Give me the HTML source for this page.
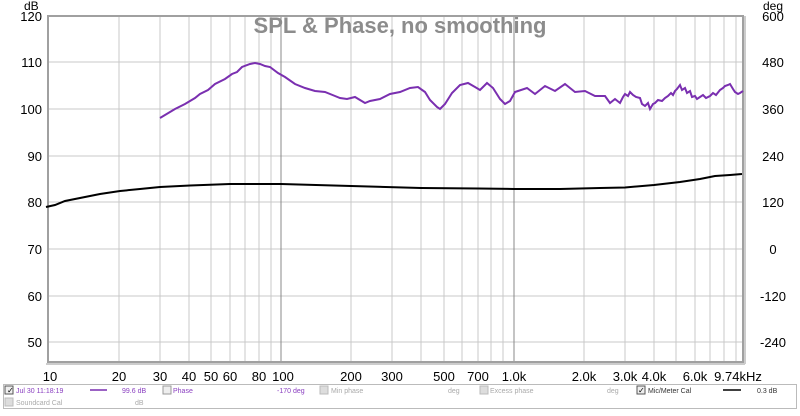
<!DOCTYPE html>
<html><head><meta charset="utf-8"><style>
body{margin:0;background:#fff;width:800px;height:411px;overflow:hidden;font-family:"Liberation Sans",sans-serif}
</style></head><body>
<svg width="800" height="411" viewBox="0 0 800 411" xmlns="http://www.w3.org/2000/svg" font-family="Liberation Sans, sans-serif">
<rect x="0" y="0" width="800" height="411" fill="#fff"/>
<g stroke="#c8c8c8" stroke-width="1">
<line x1="49" y1="16" x2="744" y2="16"/><line x1="49" y1="62" x2="744" y2="62"/><line x1="49" y1="109" x2="744" y2="109"/><line x1="49" y1="156" x2="744" y2="156"/><line x1="49" y1="202" x2="744" y2="202"/><line x1="49" y1="249" x2="744" y2="249"/><line x1="49" y1="296" x2="744" y2="296"/><line x1="49" y1="342" x2="744" y2="342"/>
<line x1="119" y1="16" x2="119" y2="362"/><line x1="160" y1="16" x2="160" y2="362"/><line x1="189" y1="16" x2="189" y2="362"/><line x1="211" y1="16" x2="211" y2="362"/><line x1="230" y1="16" x2="230" y2="362"/><line x1="245" y1="16" x2="245" y2="362"/><line x1="259" y1="16" x2="259" y2="362"/><line x1="271" y1="16" x2="271" y2="362"/>
<line x1="351" y1="16" x2="351" y2="362"/><line x1="392" y1="16" x2="392" y2="362"/><line x1="421" y1="16" x2="421" y2="362"/><line x1="444" y1="16" x2="444" y2="362"/><line x1="462" y1="16" x2="462" y2="362"/><line x1="478" y1="16" x2="478" y2="362"/><line x1="491" y1="16" x2="491" y2="362"/><line x1="503" y1="16" x2="503" y2="362"/>
<line x1="584" y1="16" x2="584" y2="362"/><line x1="625" y1="16" x2="625" y2="362"/><line x1="654" y1="16" x2="654" y2="362"/><line x1="676" y1="16" x2="676" y2="362"/><line x1="695" y1="16" x2="695" y2="362"/><line x1="710" y1="16" x2="710" y2="362"/><line x1="724" y1="16" x2="724" y2="362"/><line x1="736" y1="16" x2="736" y2="362"/>
</g>
<g stroke="#888" stroke-width="1"><line x1="281" y1="16" x2="281" y2="362"/><line x1="514" y1="16" x2="514" y2="362"/></g>
<rect x="48" y="16" width="695" height="346" fill="none" stroke="#a0a0a0" stroke-width="2"/>
<line x1="46" y1="364" x2="745" y2="364" stroke="#ccc" stroke-width="2"/>
<line x1="745" y1="16" x2="745" y2="364" stroke="#ccc" stroke-width="2"/>
<text x="400" y="33" text-anchor="middle" font-size="22" font-weight="bold" fill="#8c8c8c">SPL &amp; Phase, no smoothing</text>
<g font-size="13" fill="#000" text-anchor="end">
<text x="42" y="21">120</text><text x="42" y="67">110</text><text x="42" y="114">100</text><text x="42" y="161">90</text><text x="42" y="207">80</text><text x="42" y="254">70</text><text x="42" y="301">60</text><text x="42" y="347">50</text>
</g>
<text x="24" y="10" font-size="12">dB</text>
<text x="773" y="10" font-size="12" text-anchor="middle">deg</text>
<g font-size="13" fill="#000" text-anchor="middle">
<text x="773" y="21">600</text><text x="773" y="67">480</text><text x="773" y="114">360</text><text x="773" y="161">240</text><text x="773" y="207">120</text><text x="773" y="254">0</text><text x="773" y="301">-120</text><text x="773" y="347">-240</text>
</g>
<g font-size="13" fill="#000" text-anchor="middle">
<text x="50" y="381">10</text><text x="119" y="381">20</text><text x="160" y="381">30</text><text x="189" y="381">40</text><text x="211" y="381">50</text><text x="230" y="381">60</text><text x="259" y="381">80</text><text x="283" y="381">100</text><text x="351" y="381">200</text><text x="392" y="381">300</text><text x="444" y="381">500</text><text x="478" y="381">700</text><text x="514" y="381">1.0k</text><text x="584" y="381">2.0k</text><text x="625" y="381">3.0k</text><text x="654" y="381">4.0k</text><text x="695" y="381">6.0k</text><text x="738" y="381">9.74kHz</text>
</g>
<polyline fill="none" stroke="#7a2fb0" stroke-width="2" points="160,118 175,109 185,104 195,98 200,94 208,90 215,84 225,79 232,74 237,72 242,67 250,64 255,63 260,64 265,66 270,67 278,73 285,77 295,84 305,88 315,91 325,92 335,96 340,98 347,99 355,97 365,103 370,101 380,99 390,94 400,92 410,88 418,87 425,92 430,100 437,107 440,109 445,104 452,93 460,85 468,83 475,87 480,90 487,83 493,88 500,99 505,104 510,101 515,92 527,88 535,94 545,86 555,91 565,84 575,92 585,91 595,96 605,96 610,103 615,99 620,103 623,97 625,94 628,96 630,92 633,95 636,97 640,98 642,104 645,106 648,103 650,109 653,104 655,103 658,100 662,101 665,98 668,96 671,93 673,95 675,91 677,89 680,85 682,90 685,88 687,93 690,91 692,97 695,96 697,99 700,97 703,95 706,98 710,96 713,93 716,95 720,90 723,88 725,86 728,85 730,84 733,89 735,92 738,94 740,93 743,91"/>
<polyline fill="none" stroke="#000" stroke-width="2" points="46,207 55,205 65,201 80,198 100,194 120,191 140,189 160,187 190,185.5 230,184 281,184 351,186 421,188 478,188.5 514,189 560,189 600,188 625,187.5 654,185 680,182 700,179 715,176 730,175 742,174"/>
<rect x="3.5" y="384.5" width="793" height="24" fill="#fff" stroke="#bbb"/>
<g font-size="7" fill="#aaa">
<rect x="5" y="386" width="8" height="8" fill="#eee" stroke="#555"/><text x="7" y="393" fill="#000" font-size="8">✓</text>
<text x="16" y="393" fill="#8a3fc0">Jul 30 11:18:19</text>
<line x1="90" y1="390" x2="107" y2="390" stroke="#7a2fb0" stroke-width="1.5"/>
<text x="122" y="393" fill="#8a3fc0">99.6 dB</text>
<rect x="163" y="386" width="8" height="8" fill="#eee" stroke="#999"/>
<text x="173" y="393" fill="#8a3fc0">Phase</text>
<text x="277" y="393" fill="#8a3fc0">-170 deg</text>
<rect x="320" y="386" width="8" height="8" fill="#ddd" stroke="#bbb"/>
<text x="331" y="393">Min phase</text>
<text x="448" y="393">deg</text>
<rect x="480" y="386" width="8" height="8" fill="#ddd" stroke="#bbb"/>
<text x="490" y="393">Excess phase</text>
<text x="607" y="393">deg</text>
<rect x="637" y="386" width="8" height="8" fill="#eee" stroke="#555"/><text x="638" y="393" fill="#000" font-size="8">✓</text>
<text x="648" y="393" fill="#333">Mic/Meter Cal</text>
<line x1="723" y1="390" x2="741" y2="390" stroke="#000" stroke-width="1.5"/>
<text x="757" y="393" fill="#333">0.3 dB</text>
<rect x="5" y="398" width="8" height="8" fill="#ddd" stroke="#bbb"/>
<text x="16" y="405">Soundcard Cal</text>
<text x="135" y="405">dB</text>
</g>
</svg>
</body></html>
